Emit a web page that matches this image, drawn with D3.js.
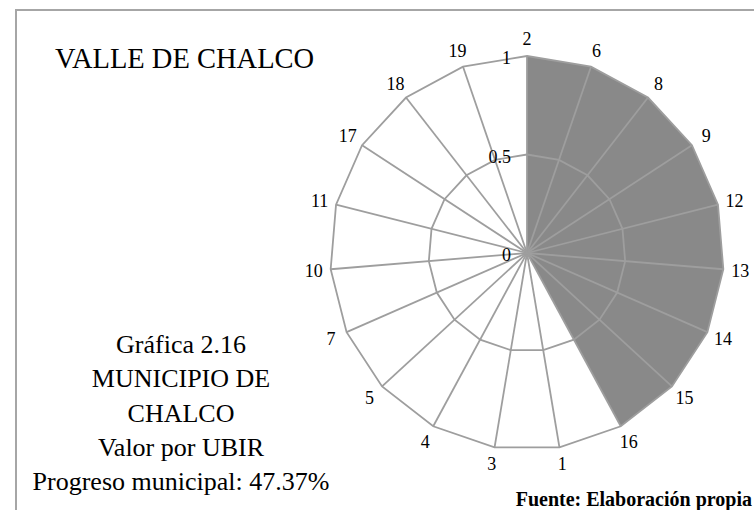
<!DOCTYPE html>
<html>
<head>
<meta charset="utf-8">
<script src="https://cdn.jsdelivr.net/npm/d3@7"></script>
<style>
  body { margin: 0; background: #fff; }
  text { font-family: "Liberation Serif", "Times New Roman", "DejaVu Serif", serif; }
</style>
</head>
<body>
<svg id="chart" width="754" height="510"></svg>
<script>
// UBIR order as it goes round the radar, clockwise from the top
const categories = ["2", "6", "8", "9", "12", "13", "14", "15", "16", "1", "3", "4", "5", "7", "10", "11", "17", "18", "19"];
const values = [1, 1, 1, 1, 1, 1, 1, 1, 1, 0, 0, 0, 0, 0, 0, 0, 0, 0, 0];
const radialTicks = [0, 0.5, 1];
const tickLabels = ["0", "0.5", "1"];
const title = "VALLE DE CHALCO";
const sideLines = ["Gráfica 2.16", "MUNICIPIO DE", "CHALCO", "Valor por UBIR", "Progreso municipal: 47.37%"];
const source = "Fuente: Elaboración propia";

const serif = "'Liberation Serif', 'Times New Roman', 'DejaVu Serif', serif";

let svg = d3.select("#chart"),
    cx = 527,
    cy = 253,
    radius = 197,
    n = categories.length;

let angle = d3.scaleLinear().domain([0, n]).range([0, 2 * Math.PI]),
    r = d3.scaleLinear().domain([0, 1]).range([0, radius]);

// outer frame (runs off the right and bottom of the picture)
svg.append("rect")
  .attr("x", 16)
  .attr("y", 10)
  .attr("width", 800)
  .attr("height", 600)
  .attr("fill", "none")
  .attr("stroke", "#a6a6a6")
  .attr("stroke-width", 2);

let g = svg.append("g").attr("transform", `translate(${cx},${cy})`);

// series area
let area = d3.lineRadial()
  .angle((d, i) => angle(i))
  .radius(d => r(d))
  .curve(d3.curveLinearClosed);

g.append("path")
  .datum(values)
  .attr("d", area)
  .attr("fill", "#898989")
  .attr("stroke", "none");

// grid rings
let ring = d3.lineRadial()
  .angle((d, i) => angle(i))
  .curve(d3.curveLinearClosed);

radialTicks.filter(t => t > 0).forEach(t => {
  g.append("path")
    .datum(categories.map(() => r(t)))
    .attr("d", ring.radius(d => d))
    .attr("fill", "none")
    .attr("stroke", "#9e9e9e")
    .attr("stroke-width", 1.8);
});

// spokes
g.selectAll(".spoke")
  .data(categories)
  .join("line")
  .attr("class", "spoke")
  .attr("x1", 0)
  .attr("y1", 0)
  .attr("x2", (d, i) => r(1) * Math.sin(angle(i)))
  .attr("y2", (d, i) => -r(1) * Math.cos(angle(i)))
  .attr("stroke", "#9e9e9e")
  .attr("stroke-width", 1.8);

// category labels
g.selectAll(".cat")
  .data(categories)
  .join("text")
  .attr("class", "cat")
  .attr("x", (d, i) => (r(1) + 17) * Math.sin(angle(i)))
  .attr("y", (d, i) => -(r(1) + 17) * Math.cos(angle(i)))
  .attr("dy", "0.35em")
  .attr("text-anchor", "middle")
  .attr("font-family", serif)
  .attr("font-size", 18)
  .attr("fill", "#000")
  .text(d => d);

// radial axis labels
g.selectAll(".tick")
  .data(radialTicks)
  .join("text")
  .attr("class", "tick")
  .attr("x", -16)
  .attr("y", d => -r(d))
  .attr("dy", "0.45em")
  .attr("text-anchor", "end")
  .attr("font-family", serif)
  .attr("font-size", 18)
  .attr("fill", "#000")
  .text((d, i) => tickLabels[i]);

svg.append("text")
  .attr("x", 55)
  .attr("y", 68)
  .attr("font-family", serif)
  .attr("font-size", 28.5)
  .attr("fill", "#000")
  .text(title);

svg.selectAll(".side")
  .data(sideLines)
  .join("text")
  .attr("class", "side")
  .attr("x", 181)
  .attr("y", (d, i) => 353 + i * 34.3)
  .attr("text-anchor", "middle")
  .attr("font-family", serif)
  .attr("font-size", 26)
  .attr("fill", "#000")
  .text(d => d);

svg.append("text")
  .attr("x", 752)
  .attr("y", 506)
  .attr("text-anchor", "end")
  .attr("font-family", serif)
  .attr("font-size", 20)
  .attr("font-weight", "bold")
  .attr("fill", "#000")
  .text(source);
</script>
</body>
</html>
